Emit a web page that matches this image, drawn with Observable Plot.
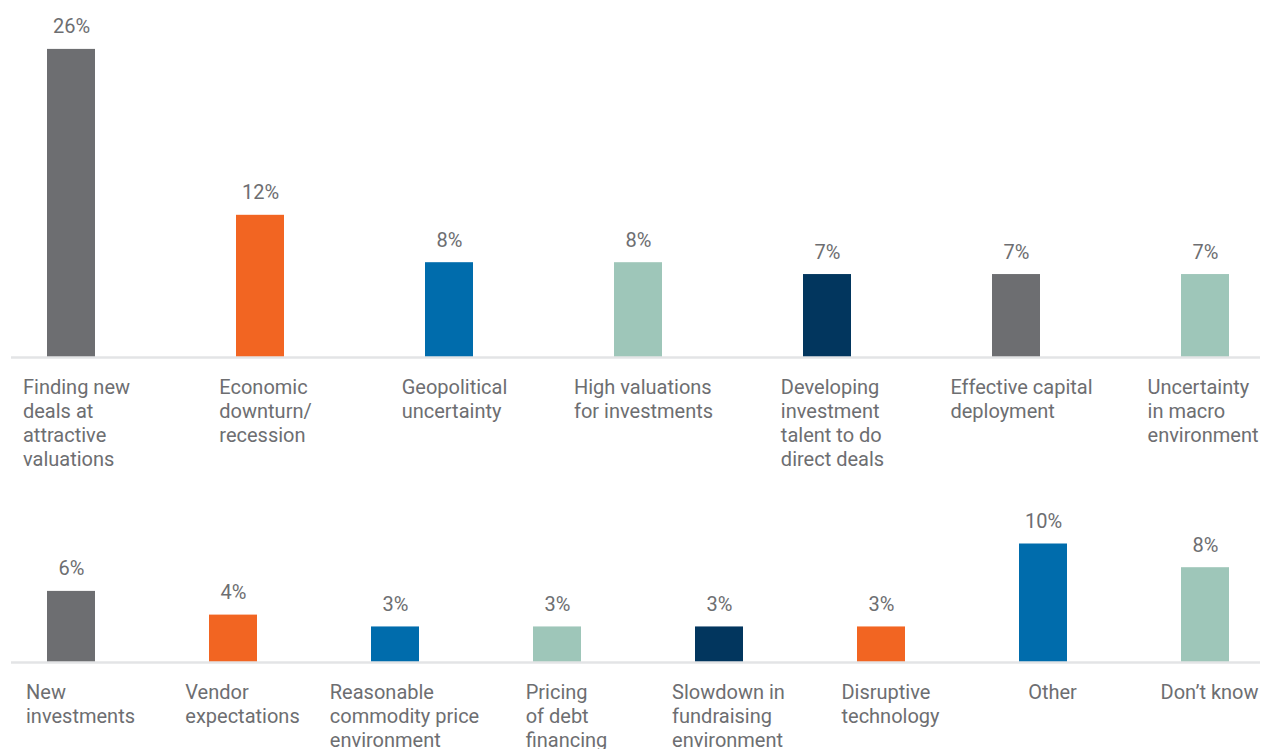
<!DOCTYPE html>
<html>
<head>
<meta charset="utf-8">
<script src="https://cdn.jsdelivr.net/npm/d3@7"></script>
<script src="https://cdn.jsdelivr.net/npm/@observablehq/plot@0.6"></script>
<style>
  html, body { margin: 0; padding: 0; background: #fff; }
  #chart svg { display: block; overflow: visible; }
</style>
</head>
<body>
<div id="chart"></div>
<script>
// Top row: leading challenges
const topCategories = [
  "Finding new\ndeals at\nattractive\nvaluations",
  "Economic\ndownturn/\nrecession",
  "Geopolitical\nuncertainty",
  "High valuations\nfor investments",
  "Developing\ninvestment\ntalent to do\ndirect deals",
  "Effective capital\ndeployment",
  "Uncertainty\nin macro\nenvironment"
];
const topValues = [26, 12, 8, 8, 7, 7, 7];

// Bottom row: remaining responses
const bottomCategories = [
  "New\ninvestments",
  "Vendor\nexpectations",
  "Reasonable\ncommodity price\nenvironment",
  "Pricing\nof debt\nfinancing",
  "Slowdown in\nfundraising\nenvironment",
  "Disruptive\ntechnology",
  "Other",
  "Don’t know"
];
const bottomValues = [6, 4, 3, 3, 3, 3, 10, 8];

// Palette
const GRAY = "#6d6e71", ORANGE = "#f26522", BLUE = "#006cac", TEAL = "#9ec6b9", NAVY = "#02365e";
const topColors = [GRAY, ORANGE, BLUE, TEAL, NAVY, GRAY, TEAL];
const bottomColors = [GRAY, ORANGE, BLUE, TEAL, NAVY, ORANGE, BLUE, TEAL];

const TEXT = "#6d6e71";
const FONT = "Roboto, 'Liberation Sans', sans-serif";
const FONT_SIZE = 20;
const WIDTH = 1262;
const PX_PER_PCT = 11.85;
const BAR_W = 48;

// Width of the widest line of a multi-line label
const ctx = document.createElement("canvas").getContext("2d");
ctx.font = `${FONT_SIZE}px ${FONT}`;
const blockWidth = s => Math.max(...s.split("\n").map(l => ctx.measureText(l).width));

function row({categories, values, colors, height, baseline, step, firstCenter, labelShift}) {
  const data = categories.map((c, i) => ({category: c, value: values[i]}));
  const n = categories.length;
  const pInner = 1 - BAR_W / step;
  const x0 = firstCenter - step / 2;
  const center = i => x0 + step * (i + 0.5);

  // Category labels: left-aligned lines in a block roughly centred under each bar
  const labelMarks = categories.map((c, i) => {
    const w = blockWidth(c);
    let left = center(i) - w / 2 + labelShift;
    left = Math.min(left, WIDTH - 3 - w);
    return Plot.text([c], {
      x: d => d, y: 0, text: d => d,
      textAnchor: "start", lineAnchor: "top", dx: left - center(i), dy: 19,
      lineHeight: 1.2, fill: TEXT, fontSize: FONT_SIZE
    });
  });

  return Plot.plot({
    width: WIDTH,
    height,
    marginLeft: 11,
    marginRight: 2,
    marginTop: 0,
    marginBottom: 0,
    style: {fontFamily: FONT, fontSize: `${FONT_SIZE}px`, color: TEXT, background: "#fff", overflow: "visible"},
    x: {domain: categories, range: [x0, x0 + n * step], paddingInner: pInner, paddingOuter: pInner / 2, axis: null},
    y: {domain: [0, 30], range: [baseline, baseline - 30 * PX_PER_PCT], axis: null},
    color: {domain: categories, range: colors},
    marks: [
      Plot.barY(data, {x: "category", y: "value", fill: "category"}),
      Plot.ruleY([0], {stroke: "#e3e4e6", strokeWidth: 2.5}),
      Plot.text(data, {
        x: "category", y: "value", text: d => `${d.value}%`,
        lineAnchor: "bottom", dy: -16, fill: TEXT, fontSize: FONT_SIZE
      }),
      ...labelMarks
    ]
  });
}

const chart = document.getElementById("chart");
chart.append(row({
  categories: topCategories, values: topValues, colors: topColors,
  height: 490, baseline: 357, step: (1206 - 70) / 6, firstCenter: 70, labelShift: 5
}));
chart.append(row({
  categories: bottomCategories, values: bottomValues, colors: bottomColors,
  height: 259, baseline: 172, step: (1206 - 70) / 7, firstCenter: 70, labelShift: 9
}));
</script>
</body>
</html>
